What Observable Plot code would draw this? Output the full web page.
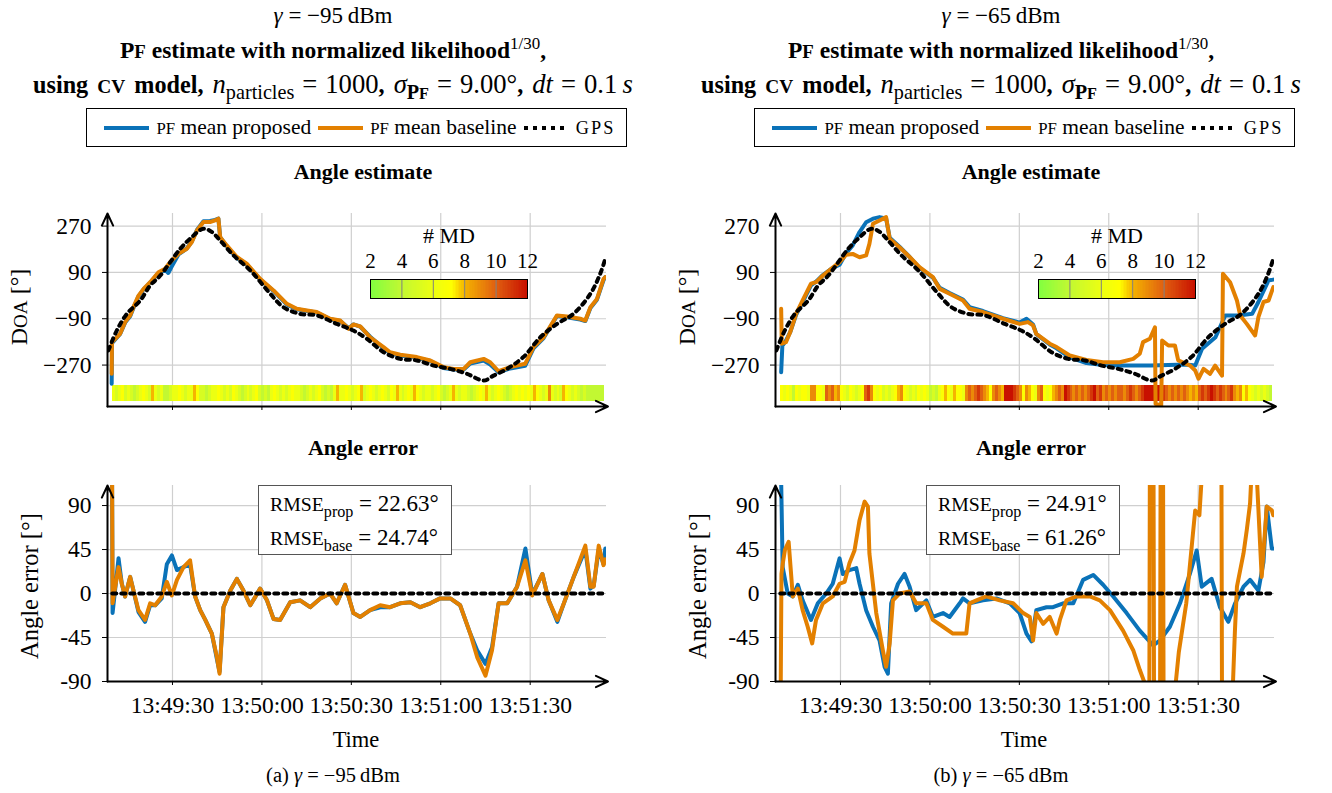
<!DOCTYPE html>
<html>
<head>
<meta charset="utf-8">
<script src="https://cdn.jsdelivr.net/npm/d3@7"></script>
<script src="https://cdn.jsdelivr.net/npm/@observablehq/plot@0.6"></script>
<style>
  html, body { margin: 0; padding: 0; background: #fff; }
  #page { position: relative; width: 1332px; height: 793px; overflow: hidden;
    font-family: "Liberation Serif", "Times New Roman", serif; color: #000; }
  #page svg text { font-family: "Liberation Serif", "Times New Roman", serif; }
  .t { position: absolute; transform: translate(-50%, -50%); white-space: nowrap; line-height: 1; font-size: 23px; }
  .v { transform: translate(-50%, -50%) rotate(-90deg); }
  .chart { position: absolute; }
  .m { font-size: 1.1em; }
  .legend { position: absolute; box-sizing: border-box; border: 1px solid #000; background: #fff;
    display: flex; align-items: center; justify-content: center; font-size: 21.5px; white-space: nowrap; }
  .legend svg { margin: 0 7px; display: block; }
  .rmse { position: absolute; box-sizing: border-box; border: 1px solid #555; background: #fff;
    font-size: 23px; padding: 1px 0 0 11px; line-height: 33px; white-space: nowrap; }
  sub, sup { line-height: 0; }
</style>
</head>
<body>
<div id="page"></div>
<script>
// ---- time axis (seconds after 13:49:00) ----
const timeDomain = [8.2, 175.6];
const timeTicks = [30, 60, 90, 120, 150];
const timeTickLabels = ["13:49:30", "13:50:00", "13:50:30", "13:51:00", "13:51:30"];

// ---- angle estimate axis ----
const doaDomain = [-431, 319];
const doaTicks = [270, 90, -90, -270];
const stripBand = [-412, -349];

// ---- angle error axis ----
const errDomain = [-90, 110.5];
const errTicks = [90, 45, 0, -45, -90];

// ---- number of MD colour map ----
const mdColorDomain = [2, 4, 6, 7.2, 8, 10, 12];
const mdColorRange = ["#80ff40", "#c2f832", "#ecff12", "#ffff00", "#f5b400", "#e06010", "#c81000"];
const mdTicks = [2, 4, 6, 8, 10, 12];
const mdStart = 10;
const mdStep = 1;

// ---- GPS ground truth (shared) ----
const gpsTime = [8.5, 11.3, 14.7, 19.2, 22.5, 25.9, 32.6, 35.9, 40.4, 43.2, 46.0, 50.5, 56.1, 62.8, 67.2, 72.8, 78.4, 85.1, 90.7, 95.2, 100.8, 106.4, 112.0, 117.6, 123.2, 128.8, 134.4, 137.7, 142.2, 147.7, 153.4, 159.0, 164.5, 170.2, 173.5, 175.2];
const gpsDoa = [-213, -136, -71, -19, 39, 78, 182, 221, 260, 247, 214, 156, 98, 7, -45, -71, -77, -110, -136, -168, -220, -246, -252, -272, -285, -304, -330, -311, -285, -239, -162, -110, -71, 7, 85, 143];
const gpsErrTime = [9.8, 175.2];
const gpsErr = [0, 0];

// ---- (a) gamma = -95 dBm ----
const aPropTime = [9.6, 9.7, 10.8, 12.4, 14.1, 15.8, 16.9, 18.6, 20.3, 22.5, 25.3, 27.5, 28.6, 29.6, 32.0, 34.8, 36.5, 38.2, 40.4, 42.6, 44.3, 45.4, 46.0, 48.2, 51.6, 54.9, 59.4, 63.9, 68.4, 71.7, 75.1, 78.4, 82.9, 86.3, 89.1, 90.7, 93.0, 96.3, 100.8, 103.0, 106.4, 112.0, 116.5, 120.9, 124.3, 127.7, 129.9, 134.4, 136.6, 139.4, 143.3, 148.3, 151.1, 154.5, 159.0, 162.3, 166.8, 168.5, 170.2, 172.4, 174.6, 175.2];
const aPropDoa = [-343, -185, -170, -150, -105, -80, -48, -3, 24, 50, 88, 100, 88, 110, 160, 183, 210, 255, 289, 290, 294, 299, 227, 192, 146, 122, 62, 18, -35, -53, -60, -66, -92, -99, -127, -112, -121, -160, -205, -224, -233, -242, -254, -281, -287, -287, -264, -252, -268, -298, -283, -273, -205, -165, -79, -84, -93, -99, -48, -16, 60, 72];
const aBaseTime = [9.6, 9.7, 10.8, 12.4, 14.1, 15.8, 16.9, 18.6, 20.3, 22.5, 25.3, 27.5, 29.2, 32.0, 34.8, 36.5, 38.2, 40.4, 42.6, 44.3, 45.4, 46.0, 48.2, 51.6, 54.9, 59.4, 63.9, 68.4, 71.7, 75.1, 78.4, 82.9, 86.3, 89.1, 90.7, 93.0, 96.3, 100.8, 103.0, 106.4, 112.0, 116.5, 120.9, 124.3, 127.7, 129.9, 134.4, 136.6, 139.4, 143.3, 148.3, 151.1, 154.5, 159.0, 162.3, 166.8, 168.5, 170.2, 172.4, 174.6, 175.2];
const aBaseDoa = [-304, -181, -168, -149, -103, -77, -45, 0, 26, 52, 91, 104, 130, 162, 182, 208, 253, 286, 286, 292, 299, 227, 195, 150, 124, 65, 20, -32, -51, -58, -64, -90, -97, -129, -112, -120, -162, -200, -220, -230, -239, -252, -278, -285, -285, -259, -246, -259, -294, -278, -265, -200, -162, -77, -81, -90, -97, -45, -13, 65, 72];
const aErrTime = [9.7, 9.9, 10.8, 11.9, 13.0, 14.1, 15.8, 16.9, 18.6, 20.8, 22.5, 24.2, 26.4, 28.1, 29.8, 31.5, 33.7, 35.9, 37.6, 39.3, 41.0, 43.2, 44.9, 45.8, 47.1, 49.4, 51.6, 53.8, 56.1, 59.4, 61.7, 63.9, 66.1, 69.5, 72.8, 76.2, 79.6, 82.9, 85.1, 87.9, 90.7, 93.0, 96.3, 99.7, 103.0, 106.4, 109.8, 113.1, 116.5, 119.8, 123.2, 126.5, 129.9, 132.2, 135.0, 137.2, 139.4, 142.3, 145.6, 148.4, 150.7, 154.1, 156.2, 159.1, 161.3, 164.6, 168.5, 170.2, 171.3, 173.0, 174.6, 175.2];
const aPropErr = [150, -20, 5, 36, 10, -3, 17, 3, -19, -29, -12, -12, -5, 30, 39, 24, 27, 30, -3, -17, -27, -41, -67, -80, -14, 3, 15, 3, -12, 5, -7, -26, -27, -9, -7, -14, -5, 0, -10, 9, -20, -24, -17, -14, -14, -10, -9, -14, -10, -5, -5, -12, -41, -58, -72, -55, -10, -10, 7, 46, -1, 20, -7, -29, -10, 17, 45, 5, 8, 45, 30, 46];
const aBaseErr = [150, -10, 7, 27, 10, -3, 17, 3, -17, -27, -10, -12, -3, 12, -2, 14, 27, 34, -3, -17, -27, -41, -65, -82, -14, 3, 15, 3, -12, 5, -7, -26, -27, -9, -7, -14, -5, 0, -10, 9, -20, -24, -17, -12, -14, -10, -9, -14, -10, -5, -5, -12, -41, -65, -84, -58, -10, -10, 7, 34, -2, 20, -7, -27, -10, 17, 49, 7, 7, 49, 29, 35];
const aMd = [
  6, 5, 6, 7, 5, 6, 5, 4, 5, 6,
  7, 6, 5, 8, 6, 5, 6, 4, 4, 5,
  6, 6, 7, 6, 5, 6, 6, 8, 7, 5,
  5, 4, 5, 6, 6, 7, 6, 5, 6, 5,
  7, 6, 5, 4, 5, 6, 5, 6, 7, 5,
  4, 5, 4, 6, 7, 6, 5, 6, 5, 6,
  7, 6, 6, 5, 4, 5, 6, 5, 6, 7,
  5, 4, 5, 4, 6, 8, 6, 6, 7, 6,
  5, 6, 7, 8, 5, 6, 7, 6, 5, 6,
  7, 6, 5, 7, 6, 8, 6, 5, 6, 7,
  6, 8, 7, 6, 5, 6, 6, 5, 6, 7,
  5, 4, 5, 6, 8, 6, 5, 6, 6, 5,
  4, 5, 6, 7, 6, 8, 6, 5, 6, 7,
  6, 5, 4, 5, 6, 7, 6, 7, 6, 7,
  6, 8, 7, 6, 5, 6, 9, 6, 5, 6,
  5, 8, 7, 6, 5, 6, 5, 4, 5, 4,
  4, 4, 4, 4, 4];
const aRmse = [22.63, 24.74];

// ---- (b) gamma = -65 dBm ----
const bPropTime = [10.1, 10.5, 11.7, 13.2, 15.1, 17.3, 20.1, 22.0, 24.1, 26.9, 29.7, 31.9, 34.1, 36.4, 38.6, 40.9, 43.1, 45.3, 46.5, 49.8, 53.2, 56.5, 61.0, 63.3, 66.6, 71.1, 73.3, 77.8, 84.5, 90.1, 92.4, 94.6, 95.7, 100.2, 102.5, 106.9, 112.5, 118.1, 123.7, 128.2, 134.0, 140.0, 146.0, 149.0, 151.3, 155.8, 159.1, 163.6, 168.1, 170.2, 173.6, 175.2];
const bPropDoa = [-298, -195, -175, -140, -75, -25, 40, 56, 80, 104, 120, 165, 195, 247, 285, 299, 305, 300, 225, 190, 150, 108, 70, 30, 10, -15, -45, -60, -88, -105, -90, -112, -150, -190, -205, -240, -262, -270, -272, -272, -272, -270, -268, -272, -207, -162, -77, -77, -71, -25, 59, 62];
const bBaseTime = [10.1, 10.3, 11.7, 13.2, 15.1, 17.3, 20.1, 21.8, 24.1, 26.9, 29.7, 31.9, 34.1, 36.4, 38.6, 39.7, 40.9, 43.1, 45.3, 46.5, 49.8, 53.2, 56.5, 61.0, 63.3, 66.6, 71.1, 73.3, 77.8, 84.5, 90.1, 92.9, 94.6, 95.7, 100.2, 102.5, 106.9, 112.5, 118.1, 123.7, 128.2, 130.4, 131.5, 133.8, 135.5, 135.7, 137.6, 137.9, 140.0, 142.2, 143.3, 147.3, 149.0, 150.1, 151.8, 154.0, 155.7, 158.0, 158.3, 160.7, 163.0, 164.1, 166.3, 169.1, 170.2, 171.9, 173.6, 175.2];
const bBaseDoa = [-51, -187, -181, -140, -71, -19, 46, 52, 78, 104, 130, 159, 162, 149, 156, 201, 279, 292, 305, 221, 188, 150, 111, 72, 26, 7, -19, -51, -64, -90, -110, -103, -116, -149, -187, -200, -233, -250, -259, -259, -246, -226, -181, -168, -123, -421, -427, -175, -194, -194, -252, -272, -291, -323, -285, -304, -272, -311, 85, 52, -19, -77, -110, -155, -84, -25, -19, 33];
const bPropErrTime = [9.9, 10.6, 12.3, 14.0, 15.7, 17.3, 20.1, 22.4, 25.2, 27.4, 29.7, 30.8, 33.0, 35.3, 36.4, 38.6, 40.9, 43.1, 44.8, 45.9, 47.0, 49.3, 51.5, 53.2, 55.4, 58.8, 61.0, 64.4, 66.6, 70.0, 71.1, 73.3, 77.8, 82.3, 86.8, 90.1, 92.4, 94.1, 95.7, 99.1, 101.3, 104.7, 108.1, 111.4, 114.8, 118.1, 121.5, 126.0, 130.4, 134.9, 137.2, 140.5, 143.9, 147.2, 149.5, 151.2, 154.5, 157.3, 160.1, 162.4, 165.2, 167.4, 170.2, 171.9, 173.0, 174.7, 175.2];
const bPropErr = [150, 27, 0, -3, 9, -7, -27, -10, 0, 10, 36, 20, 24, 26, 10, -17, -34, -48, -75, -82, -10, 10, 20, 7, -17, -7, -24, -20, -24, -10, -5, -10, -7, -5, -10, -20, -41, -49, -17, -14, -14, -10, -10, 14, 19, 9, -3, -20, -38, -53, -48, -34, -10, 20, 44, 7, 15, -14, -29, -10, 7, 14, 3, 32, 89, 46, 46];
const bBaseErrTime = [9.9, 10.2, 10.6, 11.4, 12.6, 14.0, 15.7, 17.3, 19.0, 20.5, 21.8, 24.1, 27.4, 29.7, 31.4, 33.0, 34.7, 36.4, 38.1, 39.2, 39.7, 42.0, 44.2, 45.3, 46.5, 47.6, 49.8, 53.2, 55.4, 58.8, 61.0, 64.4, 67.7, 72.2, 73.3, 75.6, 78.9, 83.4, 87.9, 91.3, 93.5, 94.6, 95.7, 98.0, 100.2, 102.5, 103.6, 105.8, 109.2, 113.7, 117.0, 120.4, 124.8, 128.2, 130.4, 132.1, 133.6, 133.8, 135.0, 135.2, 137.2, 137.4, 138.2, 138.4, 141.2, 143.5, 146.0, 148.2, 149.0, 150.4, 151.4, 157.8, 158.0, 161.2, 162.3, 163.0, 165.2, 166.3, 167.4, 168.0, 169.5, 171.3, 173.0, 174.7, 175.2];
const bBaseErr = [-120, 20, 30, 45, 53, -3, 5, -17, -34, -51, -27, -10, -3, 10, 12, 31, 44, 75, 94, 89, 41, -20, -58, -75, -51, -7, 0, 2, -10, -10, -27, -34, -41, -41, -10, -7, -3, -7, -10, -20, -24, -48, -20, -31, -24, -41, -27, -7, -3, -3, -7, -17, -38, -58, -78, -92, -130, 150, 150, -130, -130, 150, 150, -130, -130, -60, -10, 60, 85, 80, 130, 130, -130, -130, -40, 7, 41, 65, 92, 130, 130, 17, 89, 85, 80];
const bMd = [
  7, 6, 7, 6, 4, 7, 6, 7, 7, 6,
  9, 9, 7, 7, 6, 10, 9, 10, 8, 9,
  7, 6, 5, 7, 6, 5, 6, 7, 10, 11,
  9, 7, 6, 7, 5, 6, 5, 6, 7, 8,
  9, 7, 6, 5, 6, 5, 7, 6, 7, 6,
  4, 5, 4, 6, 7, 8, 7, 6, 8, 7,
  7, 6, 9, 10, 9, 10, 11, 10, 9, 8,
  7, 9, 10, 9, 8, 12, 12, 12, 11, 10,
  9, 7, 9, 8, 7, 6, 9, 10, 7, 6,
  7, 8, 9, 10, 9, 12, 11, 10, 9, 10,
  9, 10, 9, 10, 11, 12, 10, 11, 9, 10,
  9, 10, 9, 10, 10, 9, 10, 11, 10, 9,
  10, 11, 12, 12, 12, 12, 12, 12, 11, 10,
  9, 10, 9, 10, 9, 10, 9, 8, 9, 8,
  10, 11, 10, 11, 12, 11, 10, 11, 10, 9,
  10, 11, 9, 8, 9, 7, 8, 7, 6, 5,
  6, 5, 6, 5, 4];
const bRmse = [24.91, 61.26];

// ---- styling ----
const FONT = '"Liberation Serif", "Times New Roman", serif';
const BLUE = "#0a72b8";
const ORANGE = "#e38000";
const GRID = "#cfcfcf";
const LW = 4;
const GPS_DASH = "4 5";

function series(t, v, name) {
  if (t.length !== v.length) throw new Error(`${name}: ${t.length} times vs ${v.length} values`);
  return t.map((x, i) => ({t: x, v: v[i]}));
}

const mdColor = {type: "linear", domain: mdColorDomain, range: mdColorRange, interpolate: "rgb"};
const svgStyle = {fontFamily: FONT, fontSize: "23.5px", background: "none", overflow: "visible", maxWidth: "none", color: "#000"};
const signed = d => (d < 0 ? "\u2212" + Math.abs(d) : String(d));

function axisArrows(xd, yd) {
  return [
    Plot.arrow({length: 1}, {x1: xd[0], y1: yd[0], x2: xd[1] + 0.5, y2: yd[0], stroke: "#000", strokeWidth: 2, headLength: 10, headAngle: 50}),
    Plot.arrow({length: 1}, {x1: xd[0], y1: yd[0], x2: xd[0], y2: yd[1], stroke: "#000", strokeWidth: 2, headLength: 10, headAngle: 50})
  ];
}

function estimateChart(p) {
  const strip = p.md.map((v, i) => ({t0: mdStart + i * mdStep, t1: mdStart + (i + 1) * mdStep, md: v}));
  return Plot.plot({
    width: 620, height: 216,
    marginLeft: 107, marginRight: 14, marginTop: 13, marginBottom: 10,
    x: {domain: timeDomain, axis: null},
    y: {domain: doaDomain, axis: null},
    color: mdColor,
    style: svgStyle,
    marks: [
      Plot.gridX(timeTicks, {stroke: GRID, strokeOpacity: 1, strokeWidth: 1.2}),
      Plot.gridY(doaTicks, {stroke: GRID, strokeOpacity: 1, strokeWidth: 1.2}),
      Plot.rect(strip, {x1: "t0", x2: "t1", y1: stripBand[0], y2: stripBand[1], fill: "md", shapeRendering: "crispEdges"}),
      Plot.line(series(p.propTime, p.propDoa, "prop"), {x: "t", y: "v", stroke: BLUE, strokeWidth: LW, strokeLinejoin: "round", clip: true}),
      Plot.line(series(p.baseTime, p.baseDoa, "base"), {x: "t", y: "v", stroke: ORANGE, strokeWidth: LW, strokeLinejoin: "round", clip: true}),
      Plot.line(series(gpsTime, gpsDoa, "gps"), {x: "t", y: "v", stroke: "#000", strokeWidth: LW, strokeDasharray: GPS_DASH, curve: "catmull-rom", clip: true}),
      Plot.axisY({ticks: doaTicks, tickFormat: signed, tickSize: 5, tickPadding: 11, label: null}),
      Plot.axisX({ticks: timeTicks, tickFormat: () => "", tickSize: 4, label: null}),
      ...axisArrows(timeDomain, doaDomain)
    ]
  });
}

function errorChart(p) {
  return Plot.plot({
    width: 620, height: 256,
    marginLeft: 107, marginRight: 14, marginTop: 15, marginBottom: 45,
    x: {domain: timeDomain, axis: null},
    y: {domain: errDomain, axis: null},
    style: svgStyle,
    marks: [
      Plot.gridX(timeTicks, {stroke: GRID, strokeOpacity: 1, strokeWidth: 1.2}),
      Plot.gridY(errTicks, {stroke: GRID, strokeOpacity: 1, strokeWidth: 1.2}),
      Plot.line(series(p.propErrTime, p.propErr, "propErr"), {x: "t", y: "v", stroke: BLUE, strokeWidth: LW, strokeLinejoin: "round", clip: true}),
      Plot.line(series(p.baseErrTime, p.baseErr, "baseErr"), {x: "t", y: "v", stroke: ORANGE, strokeWidth: LW, strokeLinejoin: "round", clip: true}),
      Plot.line(series(gpsErrTime, gpsErr, "gpsErr"), {x: "t", y: "v", stroke: "#000", strokeWidth: LW, strokeDasharray: GPS_DASH}),
      Plot.axisY({ticks: errTicks, tickFormat: d => String(d), tickSize: 5, tickPadding: 11, label: null}),
      Plot.axisX({ticks: timeTicks, tickFormat: d => timeTickLabels[timeTicks.indexOf(d)], tickSize: 4, tickPadding: 11, label: null}),
      ...axisArrows(timeDomain, errDomain)
    ]
  });
}

function colorbar() {
  const ramp = d3.range(mdColorDomain[0], mdColorDomain[mdColorDomain.length - 1], 0.1);
  return Plot.plot({
    width: 205, height: 80,
    marginLeft: 25, marginRight: 23, marginTop: 57, marginBottom: 4,
    x: {domain: [mdTicks[0], mdTicks[mdTicks.length - 1]], axis: null},
    y: {domain: [0, 1], axis: null},
    color: mdColor,
    style: {...svgStyle, fontSize: "21px"},
    marks: [
      Plot.rect(ramp, {x1: d => d, x2: d => d + 0.1, y1: 0, y2: 1, fill: d => d + 0.05, shapeRendering: "crispEdges"}),
      Plot.ruleX(mdTicks.slice(1, -1), {stroke: "#808080", strokeWidth: 1}),
      Plot.frame({stroke: "#000", strokeWidth: 1}),
      Plot.axisX({ticks: mdTicks, anchor: "top", tickSize: 0, tickPadding: 12, label: null}),
      Plot.text(["# MD"], {frameAnchor: "top", dy: -37, lineAnchor: "bottom", fontSize: 22})
    ]
  });
}

const panels = [
  {offset: 0, tag: "(a)", gamma: "\u221295", md: aMd, rmse: aRmse,
   propTime: aPropTime, propDoa: aPropDoa, baseTime: aBaseTime, baseDoa: aBaseDoa,
   propErrTime: aErrTime, propErr: aPropErr, baseErrTime: aErrTime, baseErr: aBaseErr},
  {offset: 668, tag: "(b)", gamma: "\u221265", md: bMd, rmse: bRmse,
   propTime: bPropTime, propDoa: bPropDoa, baseTime: bBaseTime, baseDoa: bBaseDoa,
   propErrTime: bPropErrTime, propErr: bPropErr, baseErrTime: bBaseErrTime, baseErr: bBaseErr}
];

const page = document.getElementById("page");

function text(html, x, y, extra = "", cls = "t") {
  const d = document.createElement("div");
  d.className = cls;
  d.style.cssText = `left:${x}px;top:${y}px;${extra}`;
  d.innerHTML = html;
  page.appendChild(d);
  return d;
}

function place(node, x, y) {
  const d = document.createElement("div");
  d.className = "chart";
  d.style.left = x + "px";
  d.style.top = y + "px";
  d.appendChild(node);
  page.appendChild(d);
}

function swatch(color, dash) {
  return `<svg width="45" height="12"><line x1="0" y1="6" x2="45" y2="6" stroke="${color}" stroke-width="4"${dash ? ` stroke-dasharray="${dash}"` : ""}/></svg>`;
}

// small capitals drawn as reduced uppercase letters
const sc = (s, k = 0.8) => `<span style="font-size:${k}em">${s}</span>`;
const pf = `P${sc("F")}`;
// math relation with thick spacing
const eq = `<span style="margin:0 0.3em">=</span>`;

for (const p of panels) {
  const o = p.offset;
  const cx = 333 + o;

  text(`<i>γ</i> = ${p.gamma}&#8201;dBm`, cx, 15);
  text(`<b>${pf} estimate with normalized likelihood</b><sup style="font-size:0.72em">1/30</sup><b>,</b>`, cx, 51, "font-size:23.5px");
  text(`<b>using ${sc("CV")} model,</b> <span class="m"><i>n</i><sub style="font-size:0.76em">particles</sub>${eq}1000</span><b>,</b> <span class="m"><i>σ</i><sub style="font-size:0.76em;font-weight:bold">${pf}</sub>${eq}9.00°</span><b>,</b> <span class="m"><i>dt</i>${eq}0.1&#8201;<i>s</i></span>`, cx, 84, "font-size:24.2px;word-spacing:3px");

  const lg = document.createElement("div");
  lg.className = "legend";
  lg.style.cssText = `left:${86 + o}px;top:108px;width:541px;height:39px;`;
  lg.innerHTML = `${swatch(BLUE)}<span>${sc("PF", 0.78)} mean proposed</span>${swatch(ORANGE)}<span>${sc("PF", 0.78)} mean baseline</span>${swatch("#000", GPS_DASH)}<span style="letter-spacing:0.1em">${sc("GPS", 0.85)}</span>`;
  page.appendChild(lg);

  text(`<b>Angle estimate</b>`, 363 + o, 172, "font-size:22px");
  place(estimateChart(p), o, 200);
  place(colorbar(), 345 + o, 222);
  text(`D${sc("OA")} [°]`, 19 + o, 307, "font-size:24px", "t v");

  text(`<b>Angle error</b>`, 363 + o, 448, "font-size:22px");
  place(errorChart(p), o, 470);
  text(`Angle error [°]`, 30 + o, 586, "font-size:24.5px", "t v");

  const box = document.createElement("div");
  box.className = "rmse";
  box.style.cssText = `left:${258 + o}px;top:485px;width:194px;height:70px;`;
  box.innerHTML = `${sc("RMSE", 0.86)}<sub style="font-size:0.7em">prop</sub> = ${p.rmse[0].toFixed(2)}°<br>${sc("RMSE", 0.86)}<sub style="font-size:0.7em">base</sub> = ${p.rmse[1].toFixed(2)}°`;
  page.appendChild(box);

  text(`Time`, 356 + o, 740, "font-size:22.5px");
  text(`${p.tag} <i>γ</i> = ${p.gamma}&#8201;dBm`, cx, 775, "font-size:20.5px");
}
</script>
</body>
</html>
